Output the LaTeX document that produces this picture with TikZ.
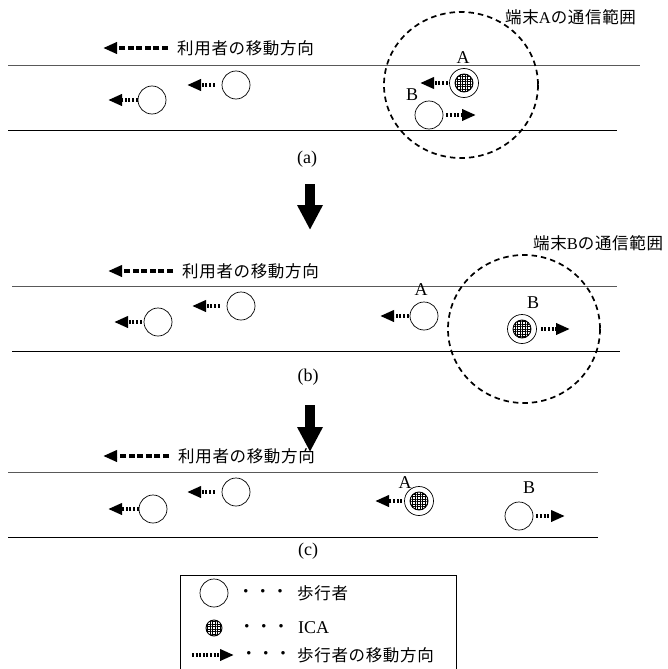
\documentclass[tikz,border=0pt]{standalone}
\usepackage{fontspec}
\setmainfont{Liberation Serif}
\newfontfamily\jp[LetterSpace=4]{Noto Sans CJK JP}
\usetikzlibrary{arrows.meta,patterns.meta}
\begin{document}
\begin{tikzpicture}[x=1pt,y=-1pt,
  walker/.style={circle,draw,line width=0.7pt,minimum size=28pt,inner sep=0pt},
  icanode/.style={circle,draw,line width=0.7pt,minimum size=29pt,inner sep=0pt,
     path picture={\draw[line width=0.9pt,pattern={Hatch[distance=2.5pt,line width=0.4pt]}] (path picture bounding box.center) circle (9pt);}},
  icamark/.style={circle,draw,line width=0.9pt,minimum size=16pt,inner sep=0pt,pattern={Hatch[distance=2.5pt,line width=0.4pt]}},
  movearrow/.style={line width=4pt,dash pattern=on 2pt off 1.6pt,-{Triangle[length=14pt,width=11pt]}},
  userarrow/.style={line width=4pt,dash pattern=on 6pt off 2.6pt,-{Triangle[length=14pt,width=11pt]}},
  bigarrow/.style={line width=10pt,-{Triangle[length=25pt,width=24pt]}},
  roadtop/.style={line width=1pt,black!65},
  roadbot/.style={line width=0.9pt,black},
  rangeline/.style={line width=1.7pt,dash pattern=on 5.5pt off 4pt},
  jptext/.style={inner sep=0pt,anchor=west,font=\jp\fontsize{16.5pt}{19pt}\selectfont},
  serif/.style={inner sep=0pt,font=\fontsize{18pt}{21pt}\selectfont},
  legbox/.style={line width=0.8pt}
]
\useasboundingbox (0,0) rectangle (667,669);

% ===== panel (a) =====
\draw[roadtop] (8,66) -- (640,66);
\draw[roadbot] (8,130) -- (617,130);
\node[jptext] (ua) at (177,48) {利用者の移動方向};
\coordinate (uatip) at (103,48);
\draw[userarrow] ([xshift=-9pt]ua.west) -- (uatip);

\node[walker] (a1) at (152,100) {};
\coordinate (a1tip) at (108,100);
\draw[movearrow] (a1.west) -- (a1tip);
\node[walker] (a2) at (236,85) {};
\coordinate (a2tip) at (187,85);
\draw[movearrow,shorten <=7pt] (a2.west) -- (a2tip);

\draw[rangeline] (461,85) ellipse [x radius=77, y radius=73];
\node[jptext] (ra) at (505,17) {端末{\rmfamily A}の通信範囲};

\node[icanode] (aA) at (464,83) {};
\node[serif] (aAl) at (463,58) {A};
\coordinate (aAtip) at (420,83);
\draw[movearrow,shorten <=1.5pt] (aA.west) -- (aAtip);
\node[walker] (aB) at (429,115) {};
\node[serif] (aBl) at (412,95) {B};
\coordinate (aBtip) at (476,115);
\draw[movearrow,shorten <=3pt] (aB.east) -- (aBtip);

\node[serif] (la) at (307,159) {(a)};
\coordinate (d1s) at (310,184);
\coordinate (d1e) at (310,230);
\draw[bigarrow] (d1s) -- (d1e);

% ===== panel (b) =====
\draw[roadtop] (12,286) -- (617,286);
\draw[roadbot] (12,351) -- (620,351);
\node[jptext] (ub) at (182,271) {利用者の移動方向};
\coordinate (ubtip) at (108,271);
\draw[userarrow] ([xshift=-9pt]ub.west) -- (ubtip);

\node[walker] (b1) at (158,322) {};
\coordinate (b1tip) at (114,322);
\draw[movearrow,shorten <=2pt] (b1.west) -- (b1tip);
\node[walker] (b2) at (241,306) {};
\coordinate (b2tip) at (192,306);
\draw[movearrow,shorten <=7pt] (b2.west) -- (b2tip);

\node[walker] (bA) at (424,316) {};
\node[serif] (bAl) at (421,290) {A};
\coordinate (bAtip) at (380,316);
\draw[movearrow,shorten <=1pt] (bA.west) -- (bAtip);

\draw[rangeline] (524,329) ellipse [x radius=76, y radius=74];
\node[jptext] (rb) at (533,243) {端末{\rmfamily B}の通信範囲};

\node[icanode] (bB) at (522,329) {};
\node[serif] (bBl) at (533,303) {B};
\coordinate (bBtip) at (570,329);
\draw[movearrow,shorten <=4pt] (bB.east) -- (bBtip);

\node[serif] (lb) at (308,377) {(b)};
\coordinate (d2s) at (310,405);
\coordinate (d2e) at (310,452);
\draw[bigarrow] (d2s) -- (d2e);

% ===== panel (c) =====
\draw[roadtop] (8,472) -- (598,472);
\draw[roadbot] (8,537) -- (598,537);
\node[jptext] (uc) at (178,456) {利用者の移動方向};
\coordinate (uctip) at (103,456);
\draw[userarrow] ([xshift=-9pt]uc.west) -- (uctip);

\node[walker] (c1) at (153,509) {};
\coordinate (c1tip) at (108,509);
\draw[movearrow] (c1.west) -- (c1tip);
\node[walker] (c2) at (236,492) {};
\coordinate (c2tip) at (187,492);
\draw[movearrow,shorten <=7pt] (c2.west) -- (c2tip);

\node[icanode] (cA) at (419,501) {};
\node[serif] (cAl) at (405,483) {A};
\coordinate (cAtip) at (375,501);
\draw[movearrow,shorten <=2pt] (cA.west) -- (cAtip);
\node[walker] (cB) at (519,516) {};
\node[serif] (cBl) at (529,488) {B};
\coordinate (cBtip) at (565,516);
\draw[movearrow,shorten <=3pt] (cB.east) -- (cBtip);

\node[serif] (lc) at (308,551) {(c)};

% ===== legend =====
\draw[legbox] (180,672) -- (180,575) -- (456,575) -- (456,672);
\node[walker] (lg1) at (214,593) {};
\node[jptext,anchor=center] (lg1d) at (263,593) {・・・};
\node[jptext] (lg1t) at (297,593) {歩行者};
\node[icamark] (lg2) at (214,628) {};
\node[jptext,anchor=center] (lg2d) at (264,628) {・・・};
\node[serif,anchor=west] (lg2t) at (298,628) {ICA};
\coordinate (lg3s) at (192,655);
\coordinate (lg3e) at (234,655);
\draw[movearrow] (lg3s) -- (lg3e);
\node[jptext,anchor=center] (lg3d) at (266,655) {・・・};
\node[jptext] (lg3t) at (297,655) {歩行者の移動方向};
\end{tikzpicture}
\end{document}
